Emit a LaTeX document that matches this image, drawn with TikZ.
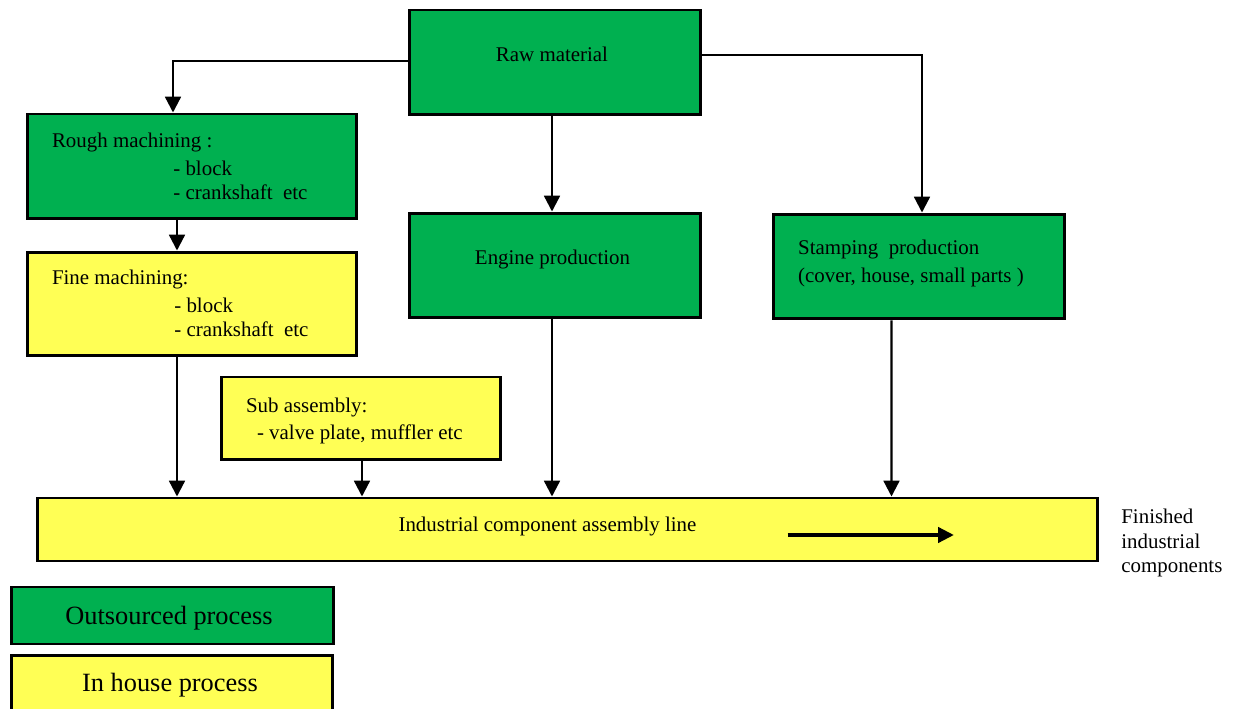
\documentclass[tikz,border=0pt]{standalone}
\usepackage{fontspec}
\setmainfont{Liberation Serif}
\usetikzlibrary{arrows.meta,calc}
\definecolor{outgreen}{RGB}{0,176,80}
\definecolor{inyellow}{RGB}{255,255,85}
\begin{document}
\begin{tikzpicture}[x=0.02cm,y=-0.02cm,
  procbox/.style={draw=black, line width=1.7pt, inner sep=0pt, rectangle},
  greenbox/.style={procbox, fill=outgreen},
  yellowbox/.style={procbox, fill=inyellow},
  lbl/.style={inner sep=0pt, font=\fontsize{11.9}{14}\selectfont},
  lgd/.style={inner sep=0pt, font=\fontsize{15}{18}\selectfont},
  flow/.style={line width=1.3pt, -{Triangle[width=9pt,length=9pt]}},
  bigflow/.style={line width=2.4pt, -{Triangle[width=8.5pt,length=9pt]}},
]
\useasboundingbox (0,0) rectangle (1238,709);

% boxes
\node[greenbox, minimum width=5.84cm, minimum height=2.1cm] (raw) at (555,62.5) {};
\node[greenbox, minimum width=6.6cm, minimum height=2.1cm] (rough) at (192,166.5) {};
\node[yellowbox, minimum width=6.6cm, minimum height=2.08cm] (fine) at (192,304) {};
\node[greenbox, minimum width=5.84cm, minimum height=2.1cm] (engine) at (555,265.5) {};
\node[greenbox, minimum width=5.84cm, minimum height=2.1cm] (stamp) at (919,266.5) {};
\node[yellowbox, minimum width=5.6cm, minimum height=1.66cm] (sub) at (361,418.5) {};
\node[yellowbox, minimum width=21.22cm, minimum height=1.26cm] (assembly) at (567.5,529.5) {};
\node[greenbox, minimum width=6.46cm, minimum height=1.14cm] (legout) at (172.5,615.5) {};
\node[yellowbox, minimum width=6.44cm, minimum height=1.2cm] (legin) at (172,685) {};

% texts
\node[lbl, anchor=base] (rawt) at (552,62) {Raw material};
\node[lbl, anchor=base west] (rought1) at (51.7,148) {Rough machining :};
\node[lbl, anchor=base west] (rought2) at (173,176) {- block};
\node[lbl, anchor=base west] (rought3) at (173,199.5) {- crankshaft~ etc};
\node[lbl, anchor=base west] (finet1) at (51.7,284.5) {Fine machining:};
\node[lbl, anchor=base west] (finet2) at (174,312.5) {- block};
\node[lbl, anchor=base west] (finet3) at (174,336.5) {- crankshaft~ etc};
\node[lbl, anchor=base] (enginet) at (552.5,265) {Engine production};
\node[lbl, anchor=base west] (stampt1) at (797.8,254.5) {Stamping~ production};
\node[lbl, anchor=base west] (stampt2) at (797.8,282.5) {(cover, house, small parts )};
\node[lbl, anchor=base west] (subt1) at (245.7,412.5) {Sub assembly:};
\node[lbl, anchor=base west] (subt2) at (256.7,440) {- valve plate, muffler etc};
\node[lbl, anchor=base] (asst) at (547.5,532) {Industrial component assembly line};
\node[lbl, anchor=base west] (fin1) at (1121,523) {Finished};
\node[lbl, anchor=base west] (fin2) at (1121,548) {industrial};
\node[lbl, anchor=base west] (fin3) at (1121,572.5) {components};
\node[lgd, anchor=base] (legoutt) at (169,624) {Outsourced process};
\node[lgd, anchor=base] (legint) at (170,691.5) {In house process};

% connectors
\draw[flow] ($(raw.west)+(0,-1.5)$) -| ($(rough.north)+(-19,0)$);
\draw[flow] ($(raw.east)+(0,-7.5)$) -| ($(stamp.north)+(3,0)$);
\draw[flow] ($(raw.south)+(-3,0)$) -- ($(engine.north)+(-3,0)$);
\draw[flow] ($(rough.south)+(-15,0)$) -- ($(fine.north)+(-15,0)$);
\draw[flow] ($(fine.south)+(-15,0)$) -- ($(assembly.north)!(177,0)!(assembly.north east)$);
\draw[flow] ($(sub.south)+(1,0)$) -- ($(assembly.north)!(362,0)!(assembly.north east)$);
\draw[flow] ($(engine.south)+(-3,0)$) -- ($(assembly.north)!(552,0)!(assembly.north east)$);
\draw[flow] ($(stamp.south)+(-27.5,0)$) -- ($(assembly.north)!(891.5,0)!(assembly.north east)$);

% direction arrow inside the assembly line
\coordinate (dirstart) at (787.5,535);
\coordinate (dirend) at (954,535);
\draw[bigflow] (dirstart) -- (dirend);
\end{tikzpicture}
\end{document}
